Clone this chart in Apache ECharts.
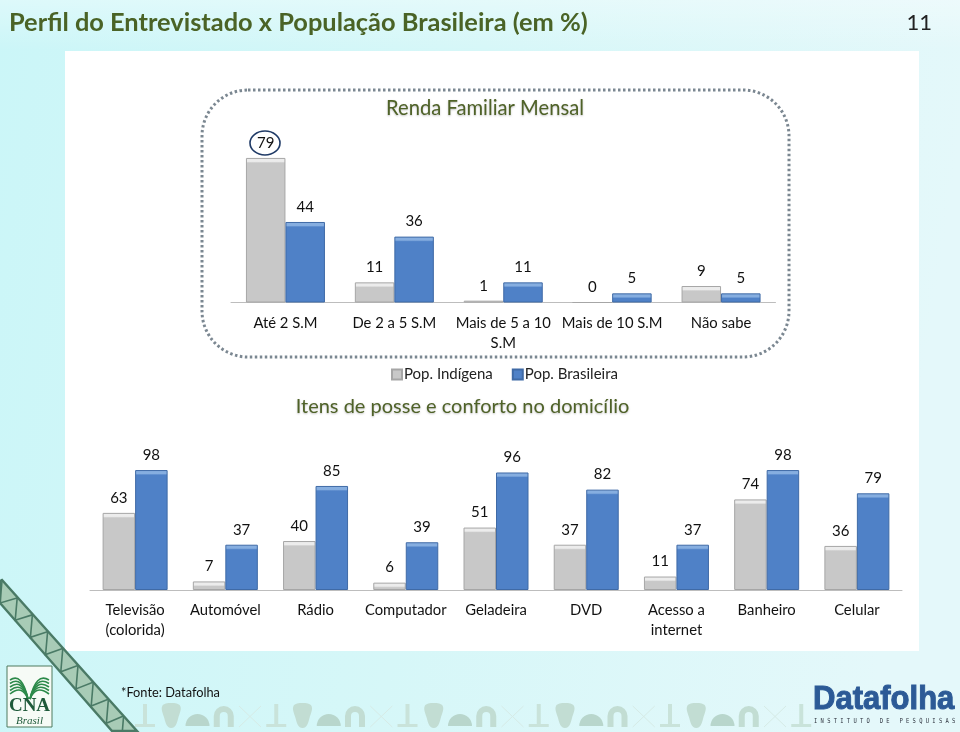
<!DOCTYPE html>
<html><head><meta charset="utf-8">
<style>html,body{margin:0;padding:0;background:#fff}#c{width:960px;height:732px}</style>
<script src="https://cdn.jsdelivr.net/npm/echarts@6/dist/echarts.min.js"></script>
</head><body><div id="c"></div>
<script>
const rendaCats = ['Até 2 S.M','De 2 a 5 S.M','Mais de 5 a 10\nS.M','Mais de 10 S.M','Não sabe'];
const rendaIndigena = [79,11,1,0,9];
const rendaBrasileira = [44,36,11,5,5];
const posseCats = ['Televisão\n(colorida)','Automóvel','Rádio','Computador','Geladeira','DVD','Acesso a\ninternet','Banheiro','Celular'];
const posseIndigena = [63,7,40,6,51,37,11,74,36];
const posseBrasileira = [98,37,85,39,96,82,37,98,79];
const seriesNames = ['Pop. Indígena','Pop. Brasileira'];

const FONT = 'Lato, "Noto Sans", sans-serif';
const G = echarts.graphic;
const GRAY = {main:'#c8c8c8', top:'#ececec', edge:'#a6a6a6'};
const BLUE = {main:'#4f81c7', top:'#86aee0', edge:'#3f6aa6'};

function items(vals, pal, pxPerUnit){
  return vals.map(v=>{
    const h = Math.max(v*pxPerUnit,1), f = Math.min(5/h,1);
    return {value:v,itemStyle:{color:new G.LinearGradient(0,0,0,1,[
      {offset:0,color:pal.top},{offset:f*0.7,color:pal.top},{offset:f,color:pal.main},{offset:1,color:pal.main}])}};
  });
}
function bar(name, vals, pal, idx, w, ppu){
  return {type:'bar',name,xAxisIndex:idx,yAxisIndex:idx,barWidth:w,barGap:0,
    data:items(vals,pal,ppu),
    itemStyle:{color:pal.main,borderColor:pal.edge,borderWidth:1},
    label:{show:true,position:'top',distance:7.5,color:'#111',fontFamily:FONT,fontSize:15},
    emphasis:{disabled:true},animation:false};
}

// decoration
const deco = [];
deco.push({type:'rect',shape:{x:0,y:0,width:960,height:50},style:{fill:new G.LinearGradient(0,0,0,1,[
  {offset:0,color:'rgba(255,255,255,0.35)'},{offset:1,color:'rgba(255,255,255,0)'}])},z:0});
deco.push({type:'rect',shape:{x:65,y:51,width:854,height:600},style:{fill:'#fff'},z:0});
deco.push({type:'rect',shape:{x:202,y:90,width:587,height:267,r:46},
  style:{fill:'none',stroke:'#7b8791',lineWidth:3,lineDash:[2.5,2.5]},z:1});
deco.push({type:'ellipse',shape:{cx:265,cy:143,rx:15,ry:12},style:{fill:'none',stroke:'#1f3a66',lineWidth:1.6},z:1});

// truss band
deco.push({type:'polygon',shape:{points:[[0,581],[2,580],[137,731],[112,731],[0,603]]},
  style:{fill:'#a8cbb6',stroke:'#4a7a66',lineWidth:2.4},z:1});
for(let i=0;i<9;i++){
  const t=i*15.2;
  deco.push({type:'polyline',shape:{points:[[2+t,581+t*1.11],[0+t,603+t*1.13],[17+t,598+t*1.11]]},
    style:{fill:'none',stroke:'#4a7a66',lineWidth:1.6},z:1});
}
// faint icon row
const iconKinds=[
  x=>[{type:'polygon',shape:{points:[[x-2,704],[x+2,704],[x+2,724],[x+10,724],[x+10,727],[x-10,727],[x-10,724],[x-2,724]]},style:{fill:'#c9e3da'}}],
  x=>[{type:'polygon',shape:{smooth:0.4,points:[[x-9,706],[x,703],[x+9,706],[x+7,718],[x+3,727],[x-3,727],[x-7,718]]},style:{fill:'#c2ddd3'}}],
  x=>[{type:'sector',shape:{cx:x,cy:726,r0:0,r:12,startAngle:Math.PI,endAngle:2*Math.PI},style:{fill:'#b8d6cc'}}],
  x=>[{type:'sector',shape:{cx:x,cy:716,r0:4,r:10,startAngle:Math.PI,endAngle:2*Math.PI},style:{fill:'#c2ddd3'}},
      {type:'rect',shape:{x:x-10,y:716,width:6,height:11},style:{fill:'#c2ddd3'}},
      {type:'rect',shape:{x:x+4,y:716,width:6,height:11},style:{fill:'#c2ddd3'}}],
  x=>[{type:'line',shape:{x1:x-11,y1:706,x2:x+11,y2:727},style:{stroke:'#d6ebe6',lineWidth:1}},
      {type:'line',shape:{x1:x+11,y1:706,x2:x-11,y2:727},style:{stroke:'#d6ebe6',lineWidth:1}}]
];
for(let i=0;i<26;i++){
  iconKinds[i%5](145+i*26.25).forEach(el=>{el.z=1;deco.push(el);});
}
// CNA logo
deco.push({type:'rect',shape:{x:7,y:666,width:45,height:61},style:{fill:'#f6fbf6',stroke:'#4f7a5e',lineWidth:1},z:2});
for(let i=0;i<5;i++){
  deco.push({type:'bezierCurve',shape:{x1:10,y1:680+i*3.5,x2:28,y2:699,cpx1:22,cpy1:672+i*3},
    style:{fill:'none',stroke:'#2c8a4a',lineWidth:1.6},z:3});
  deco.push({type:'bezierCurve',shape:{x1:49,y1:680+i*3.5,x2:30,y2:699,cpx1:36,cpy1:672+i*3},
    style:{fill:'none',stroke:'#2c8a4a',lineWidth:1.6},z:3});
}
deco.push({type:'text',style:{x:29.5,y:706,text:'CNA',fill:'#1f5a3a',font:'bold 19px "Liberation Serif"',align:'center',verticalAlign:'middle'},z:3});
deco.push({type:'text',style:{x:29.5,y:721,text:'Brasil',fill:'#1f5a3a',font:'italic 11px "Liberation Serif"',align:'center',verticalAlign:'middle'},z:3});
// Fonte
deco.push({type:'text',style:{x:121,y:692.5,text:'*Fonte: Datafolha',fill:'#111',font:'12.8px '+FONT,verticalAlign:'middle'},z:3});
// Datafolha logo
deco.push({type:'text',x:813,y:700,scaleX:0.94,style:{x:0,y:0,text:'Datafolha',fill:'#2c5a96',stroke:'#2c5a96',lineWidth:1,font:'bold 33px "Liberation Sans"',verticalAlign:'middle'},z:3});
deco.push({type:'text',x:814,y:721.5,scaleX:0.78,style:{x:0,y:0,text:'I N S T I T U T O   D E   P E S Q U I S A S',fill:'#2f3540',font:'7px "DejaVu Sans Mono"',verticalAlign:'middle'},z:3});
// page number
deco.push({type:'text',style:{x:932,y:23,text:'11',fill:'#222',font:'22px '+FONT,align:'right',verticalAlign:'middle'},z:3});

const subTitle = {color:'#4f6228',fontFamily:FONT,fontWeight:'normal',fontSize:20.2,textShadowColor:'rgba(0,0,0,0.25)',textShadowBlur:2,textShadowOffsetY:1};
const option = {
  animation:false,
  backgroundColor:new G.LinearGradient(0,0,1,0.2,[
    {offset:0,color:'#cbf6f8'},{offset:0.5,color:'#d6f7f8'},{offset:1,color:'#e4f8fa'}]),
  title:[
    {text:'Perfil do Entrevistado x População Brasileira (em %)',left:9,top:10,padding:0,
      textStyle:{color:'#4a6326',fontFamily:FONT,fontWeight:'bold',fontSize:25.4}},
    {text:'Renda Familiar Mensal',left:485,top:98,padding:0,textAlign:'center',textStyle:subTitle},
    {text:'Itens de posse e conforto no domicílio',left:462.5,top:397,padding:0,textAlign:'center',textStyle:{...subTitle,fontSize:20}}
  ],
  legend:{data:seriesNames,left:391,top:362,padding:[5,0],itemWidth:10,itemHeight:10,itemGap:19,icon:'rect',selectedMode:false,
    textStyle:{color:'#222',fontFamily:FONT,fontSize:15,padding:[0,0,0,-3]}},
  grid:[
    {left:231,width:544.5,top:156.1,height:146.4},
    {left:90,width:812,top:467.6,height:122.4}
  ],
  xAxis:[
    {type:'category',gridIndex:0,data:rendaCats,axisTick:{show:false},axisLine:{lineStyle:{color:'#bdbdbd'}},
      axisLabel:{color:'#111',fontFamily:FONT,fontSize:14.8,margin:11,lineHeight:20,interval:0}},
    {type:'category',gridIndex:1,data:posseCats,axisTick:{show:false},axisLine:{lineStyle:{color:'#bdbdbd'}},
      axisLabel:{color:'#111',fontFamily:FONT,fontSize:14.8,margin:10,lineHeight:20,interval:0}}
  ],
  yAxis:[
    {type:'value',gridIndex:0,min:0,max:80,show:false},
    {type:'value',gridIndex:1,min:0,max:100,show:false}
  ],
  series:[
    bar(seriesNames[0],rendaIndigena,GRAY,0,39.5,1.83),
    bar(seriesNames[1],rendaBrasileira,BLUE,0,39.5,1.83),
    bar(seriesNames[0],posseIndigena,GRAY,1,32.5,1.224),
    bar(seriesNames[1],posseBrasileira,BLUE,1,32.5,1.224)
  ],
  graphic:{elements:deco}
};
echarts.init(document.getElementById('c'),null,{renderer:'canvas'}).setOption(option);
</script></body></html>
